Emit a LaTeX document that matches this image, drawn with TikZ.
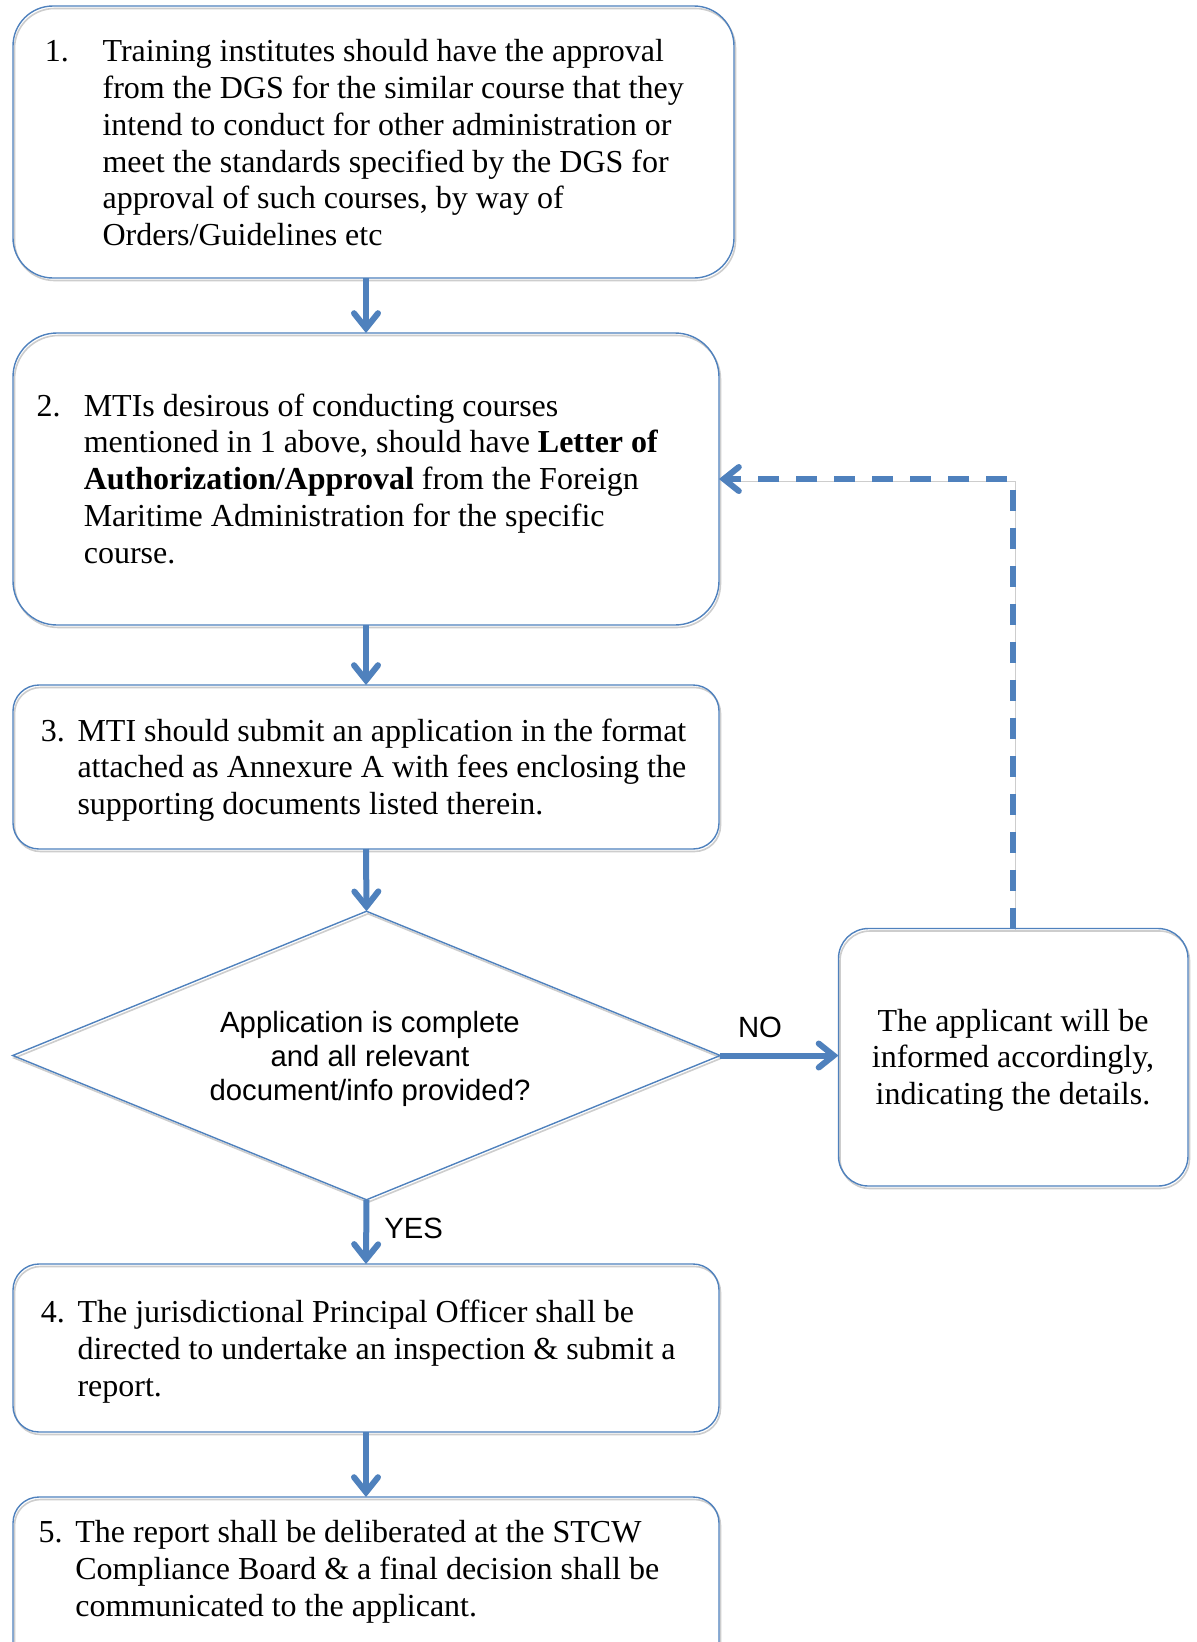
\documentclass[tikz,border=0pt]{standalone}
\usepackage{fontspec}
\setmainfont{Liberation Serif}
\newfontfamily\arialf{Liberation Sans}
\usetikzlibrary{arrows.meta,shapes.geometric,shadows}
\definecolor{wblue}{HTML}{4F81BD}
\definecolor{shad}{HTML}{CDCDCD}
\begin{document}
\begin{tikzpicture}[x=1pt,y=-1pt,
  shd/.style={general shadow={draw=shad, line width=1.6pt, shadow xshift=1.5pt, shadow yshift=-2.5pt}},
  ashd/.style={general shadow={draw=shad, shadow xshift=1.5pt, shadow yshift=-2.5pt}},
  box/.style={draw=wblue, line width=1.4pt, rounded corners=#1, inner sep=0pt, outer sep=0pt, anchor=north west, shd},
  dia/.style={diamond, draw=wblue, line width=1.4pt, inner sep=0pt, outer sep=0pt, shd},
  txt/.style={inner sep=0pt, outer sep=0pt, font=\fontsize{32}{36.9}\selectfont},
  stxt/.style={inner sep=0pt, outer sep=0pt, font=\arialf\fontsize{29.3}{34}\selectfont},
  arr/.style={draw=wblue, line width=6pt, ashd, -{Straight Barb[length=15pt,width=24pt,line cap=round]}},
  fb/.style={arr, dash pattern=on 21pt off 17pt}
]
\useasboundingbox (0,0) rectangle (1197,1642);

% boxes
\node[box=40pt, minimum width=721pt, minimum height=272pt] (b1) at (13,6) {};
\node[box=44pt, minimum width=706pt, minimum height=292pt] (b2) at (13,333) {};
\node[box=26pt, minimum width=706pt, minimum height=164pt] (b3) at (13,685) {};
\node[dia, minimum width=707.5pt, minimum height=288.5pt] (d) at (366.5,1055.5) {};
\node[box=30pt, minimum width=349.5pt, minimum height=257.5pt] (r) at (838.5,928.5) {};
\node[box=26pt, minimum width=706pt, minimum height=168pt] (b4) at (13,1264) {};
\node[box=26pt, minimum width=706pt, minimum height=175pt] (b5) at (13,1497) {};

% texts
\node[txt, anchor=base west] (n1) at (45,61.3) {1.};
\node[txt, anchor=base west] (t1) at (102.6,61.3) {\begin{tabular}[t]{@{}l@{}}
Training institutes should have the approval\\
from the DGS for the similar course that they\\
intend to conduct for other administration or\\
meet the standards specified by the DGS for\\
approval of such courses, by way of\\
Orders/Guidelines etc\end{tabular}};

\node[txt, anchor=base west] (n2) at (36.7,416) {2.};
\node[txt, anchor=base west] (t2) at (83.8,416) {\begin{tabular}[t]{@{}l@{}}
MTIs desirous of conducting courses\\
mentioned in 1 above, should have \textbf{Letter of}\\
\textbf{Authorization/Approval} from the Foreign\\
Maritime Administration for the specific\\
course.\end{tabular}};

\node[txt, anchor=base west] (n3) at (40.8,741) {3.};
\node[txt, anchor=base west] (t3) at (77.5,741) {\begin{tabular}[t]{@{}l@{}}
MTI should submit an application in the format\\
attached as Annexure A with fees enclosing the\\
supporting documents listed therein.\end{tabular}};

\node[stxt, anchor=base] (dt) at (370,1032.5) {\begin{tabular}[t]{@{}c@{}}
Application is complete\\
and all relevant\\
document/info provided?\end{tabular}};

\node[txt, anchor=base] (rt) at (1013,1031) {\begin{tabular}[t]{@{}c@{}}
The applicant will be\\
informed accordingly,\\
indicating the details.\end{tabular}};

\node[txt, anchor=base west] (n4) at (40.8,1322.5) {4.};
\node[txt, anchor=base west] (t4) at (77.5,1322.5) {\begin{tabular}[t]{@{}l@{}}
The jurisdictional Principal Officer shall be\\
directed to undertake an inspection \& submit a\\
report.\end{tabular}};

\node[txt, anchor=base west] (n5) at (38.7,1542.5) {5.};
\node[txt, anchor=base west] (t5) at (75.4,1542.5) {\begin{tabular}[t]{@{}l@{}}
The report shall be deliberated at the STCW\\
Compliance Board \& a final decision shall be\\
communicated to the applicant.\end{tabular}};

\node[stxt, anchor=base] (no) at (760,1037.5) {NO};
\node[stxt, anchor=base] (yes) at (413.7,1238.5) {YES};

% connectors
\draw[arr] (b2.north |- b1.south) -- (b2.north);
\draw[arr] (b2.south) -- (b3.north);
\draw[arr] (b3.south) -- (d.north);
\draw[arr] (d.south) -- (b4.north);
\draw[arr] (b4.south) -- (b5.north);
\draw[arr] (d.east) -- (d.east -| r.west);
\draw[fb] (r.north) |- (b2.east);
\end{tikzpicture}
\end{document}
